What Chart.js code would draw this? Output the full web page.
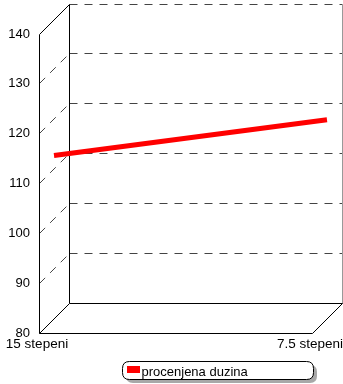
<!DOCTYPE html>
<html>
<head>
<meta charset="utf-8">
<script src="https://cdn.jsdelivr.net/npm/chart.js@4.4.1/dist/chart.umd.min.js"></script>
<style>
html, body { margin: 0; padding: 0; background: #fff; }
</style>
</head>
<body>
<canvas id="grafikDuzina" width="343" height="384"></canvas>
<script>
// podaci sa slike
const kategorije = ['15 stepeni', '7.5 stepeni'];
const procenjenaDuzina = [112.6, 119.8];
const nazivSerije = 'procenjena duzina';
const yMin = 80;
const yMax = 140;
const yKorak = 10;

Chart.defaults.font.family = '"Liberation Sans", Arial, sans-serif';
Chart.defaults.color = '#000';

const px = v => Math.floor(v) + 0.5;

function zaobljeno(ctx, x, y, w, h, r) {
    ctx.beginPath();
    ctx.moveTo(x + r, y);
    ctx.lineTo(x + w - r, y);
    ctx.quadraticCurveTo(x + w, y, x + w, y + r);
    ctx.lineTo(x + w, y + h - r);
    ctx.quadraticCurveTo(x + w, y + h, x + w - r, y + h);
    ctx.lineTo(x + r, y + h);
    ctx.quadraticCurveTo(x, y + h, x, y + h - r);
    ctx.lineTo(x, y + r);
    ctx.quadraticCurveTo(x, y, x + r, y);
    ctx.closePath();
}

// 3D okvir: bocni zid, zadnji zid i pod
const okvir3d = {
    id: 'okvir3d',
    beforeDatasetsDraw(chart, args, o) {
        const ctx = chart.ctx;
        const a = chart.chartArea;
        const y = chart.scales.y;
        const dx = o.dx, dy = o.dy;
        const L = px(a.left), R = px(a.right), T = px(a.top), B = px(a.bottom);

        ctx.save();
        ctx.lineWidth = 1;

        // isprekidane linije mreze
        ctx.strokeStyle = '#444';
        ctx.setLineDash([8, 7]);
        y.ticks.forEach(t => {
            if (t.value === yMin) return;
            const py = px(y.getPixelForValue(t.value));
            ctx.beginPath();
            ctx.moveTo(L + dx, py + dy);
            ctx.lineTo(R + dx, py + dy);
            ctx.stroke();
            if (t.value === yMax) return;
            ctx.beginPath();
            ctx.moveTo(L, py);
            ctx.lineTo(L + dx, py + dy);
            ctx.stroke();
        });
        ctx.setLineDash([]);

        // desna ivica zadnjeg zida
        ctx.strokeStyle = '#999';
        ctx.beginPath();
        ctx.moveTo(R + dx, T + dy);
        ctx.lineTo(R + dx, B + dy);
        ctx.stroke();

        ctx.strokeStyle = '#000';
        ctx.beginPath();
        // prednja osa
        ctx.moveTo(L, T);
        ctx.lineTo(L, B);
        // gornja ivica bocnog zida
        ctx.moveTo(L, T);
        ctx.lineTo(L + dx, T + dy);
        // leva ivica zadnjeg zida
        ctx.moveTo(L + dx, T + dy);
        ctx.lineTo(L + dx, B + dy);
        // pod
        ctx.moveTo(L, B);
        ctx.lineTo(R, B);
        ctx.lineTo(R + dx, B + dy);
        ctx.lineTo(L + dx, B + dy);
        ctx.lineTo(L, B);
        ctx.stroke();
        ctx.restore();

        // linija je na sredini dubine
        ctx.save();
        ctx.translate(dx / 2, dy / 2);
    },
    afterDatasetsDraw(chart) {
        chart.ctx.restore();
    }
};

// legenda sa senkom
const legenda = {
    id: 'legenda',
    afterDraw(chart, args, o) {
        const ctx = chart.ctx;
        const ds = chart.data.datasets[0];
        ctx.save();
        ctx.fillStyle = '#a8a8a8';
        zaobljeno(ctx, o.x + 4, o.y + 4, o.w, o.h, 7);
        ctx.fill();
        ctx.fillStyle = '#fff';
        ctx.strokeStyle = '#000';
        ctx.lineWidth = 1;
        zaobljeno(ctx, o.x + 0.5, o.y + 0.5, o.w, o.h, 7);
        ctx.fill();
        ctx.stroke();
        ctx.fillStyle = ds.borderColor;
        ctx.fillRect(o.x + 5, o.y + 5, 13, 7);
        ctx.fillStyle = '#000';
        ctx.font = '13px "Liberation Sans", Arial, sans-serif';
        ctx.textBaseline = 'alphabetic';
        ctx.fillText(ds.label, o.x + 19.5, o.y + 15);
        ctx.restore();
    }
};

new Chart(document.getElementById('grafikDuzina'), {
    type: 'line',
    data: {
        labels: kategorije,
        datasets: [{
            label: nazivSerije,
            data: procenjenaDuzina,
            borderColor: '#ff0000',
            backgroundColor: '#ff0000',
            borderWidth: 5,
            borderCapStyle: 'butt',
            pointRadius: 0,
            tension: 0,
            clip: false
        }]
    },
    options: {
        responsive: false,
        animation: false,
        layout: { padding: { top: 34, right: 31, bottom: 31, left: 0 } },
        plugins: {
            legend: { display: false },
            tooltip: { enabled: false },
            okvir3d: { dx: 30, dy: -30 },
            legenda: { x: 122, y: 361, w: 191, h: 18 }
        },
        scales: {
            x: {
                type: 'category',
                offset: false,
                grid: { display: false, drawTicks: false },
                border: { display: false },
                ticks: { maxRotation: 0, autoSkip: false, padding: 3, labelOffset: -2, font: { size: 13.5 } },
                afterFit(s) { s.height = 20; s.paddingLeft = 0; s.paddingRight = 0; }
            },
            y: {
                min: yMin,
                max: yMax,
                grid: { display: false, drawTicks: false },
                border: { display: false },
                ticks: { stepSize: yKorak, padding: 9, font: { size: 13 } },
                afterFit(s) { s.width = 39; }
            }
        }
    },
    plugins: [okvir3d, legenda]
});
</script>
</body>
</html>
